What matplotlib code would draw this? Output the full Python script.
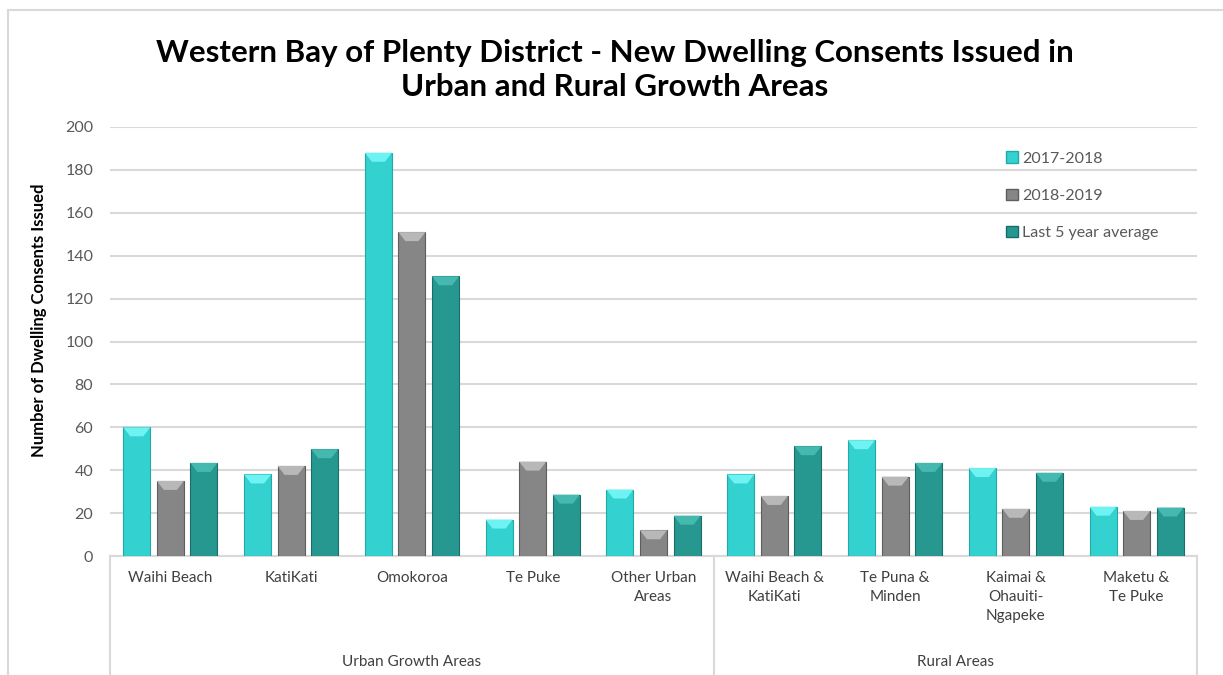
import matplotlib
matplotlib.use("Agg")
import matplotlib.pyplot as plt
from matplotlib.patches import Polygon, Patch, Rectangle
import matplotlib.transforms as mtransforms
import numpy as np

plt.rcParams['font.family'] = ['Lato', 'DejaVu Sans']

categories = ["Waihi Beach", "KatiKati", "Omokoroa", "Te Puke", "Other Urban\nAreas",
              "Waihi Beach &\nKatiKati", "Te Puna &\nMinden", "Kaimai &\nOhauiti-\nNgapeke",
              "Maketu &\nTe Puke"]
groups = ["Urban Growth Areas", "Rural Areas"]
group_sizes = [5, 4]
series_names = ["2017-2018", "2018-2019", "Last 5 year average"]
s2017 = [60, 38, 188, 17, 31, 38, 54, 41, 23]
s2018 = [35, 42, 151, 44, 12, 28, 37, 22, 21]
s5yr = [43.4, 49.8, 130.4, 28.6, 18.8, 51.2, 43.4, 38.8, 22.6]
yticks = list(range(0, 201, 20))

colors = ["#33D1D0", "#868686", "#269890"]
tops = ["#6FF2F2", "#B8B8B8", "#45B8B0"]
edges = ["#23A9A8", "#5E5E5E", "#1A6E69"]

W, H = 1223, 675
fig = plt.figure(figsize=(W / 100, H / 100), dpi=100)
fig.patch.set_facecolor("white")

# outer chart frame
fig.patches.append(Rectangle((8 / W, -0.05), 1.1, 1 - 10 / H + 0.05, transform=fig.transFigure,
                             fill=False, edgecolor="#D9D9D9", linewidth=1.5))

ax_l, ax_r, ax_b, ax_t = 110, 1197, 556, 127
ax = fig.add_axes([ax_l / W, 1 - ax_b / H, (ax_r - ax_l) / W, (ax_b - ax_t) / H])
ax.set_facecolor("none")

n = len(categories)
x = np.arange(n)
bw = 0.224
step = 0.278
series = [s2017, s2018, s5yr]
px_per_unit = (ax_b - ax_t) / 200.0
bevel_h = 9 / px_per_unit
inset = 7 / ((ax_r - ax_l) / n)

for i, vals in enumerate(series):
    bars = ax.bar(x + (i - 1) * step, vals, width=bw, color=colors[i],
                  edgecolor=edges[i], linewidth=0.8, zorder=3)
    for r in bars:
        bx, by, bwid, bh = r.get_x(), r.get_y(), r.get_width(), r.get_height()
        d = min(bevel_h, bh * 0.5)
        poly = Polygon([(bx, bh), (bx + bwid, bh), (bx + bwid - inset, bh - d), (bx + inset, bh - d)],
                       closed=True, facecolor=tops[i], edgecolor="none", zorder=4)
        ax.add_patch(poly)

ax.set_xlim(-0.5, n - 0.5)
ax.set_ylim(0, 200)
ax.set_yticks(yticks)
ax.set_yticklabels([str(t) for t in yticks], fontsize=11.5, color="#595959")
ax.set_xticks([])
ax.tick_params(axis="y", length=0, pad=12)
ax.yaxis.grid(True, color="#D9D9D9", linewidth=1.5, zorder=0)
ax.set_axisbelow(True)
for s in ["left", "right", "top"]:
    ax.spines[s].set_visible(False)
ax.spines["bottom"].set_color("#D9D9D9")
ax.spines["bottom"].set_linewidth(1.5)

trans = mtransforms.blended_transform_factory(ax.transData, ax.transAxes)
# category labels
for xi, lab in zip(x, categories):
    ax.annotate(lab, xy=(xi, 0), xycoords=trans, xytext=(0, -11), textcoords="offset points",
                ha="center", va="top", fontsize=11, color="#404040", linespacing=1.45)

# group separators and labels
bottom_frac = -(H - ax_b + 10) / (ax_b - ax_t)
start = 0
bounds = [-0.5]
for g, sz in zip(groups, group_sizes):
    mid = start + (sz - 1) / 2
    ax.annotate(g, xy=(mid, 0), xycoords=trans, xytext=(0, -76), textcoords="offset points",
                ha="center", va="center", fontsize=11, color="#404040")
    start += sz
    bounds.append(start - 0.5)
for b in bounds:
    ax.plot([b, b], [0, bottom_frac], transform=trans, color="#D9D9D9", linewidth=1.5,
            clip_on=False, zorder=2)

# legend
handles = [Patch(facecolor=colors[i], edgecolor=edges[i], label=series_names[i]) for i in range(3)]
leg = fig.legend(handles=handles, loc="upper left", bbox_to_anchor=(992 / W, 1 - 137 / H),
                 frameon=False, fontsize=11.5, labelspacing=1.45, handlelength=0.7,
                 handleheight=0.7, handletextpad=0.3, labelcolor="#595959")

# title
fig.text(615 / W, 1 - 70 / H,
         "Western Bay of Plenty District - New Dwelling Consents Issued in\nUrban and Rural Growth Areas",
         ha="center", va="center", fontsize=22.5, fontweight="bold", color="black", linespacing=1.28)

# y label
fig.text(39 / W, 1 - 320 / H, "Number of Dwelling Consents Issued", rotation=90,
         ha="center", va="center", fontsize=12, fontweight="bold", color="black")

fig.savefig("out.png", dpi=100)
